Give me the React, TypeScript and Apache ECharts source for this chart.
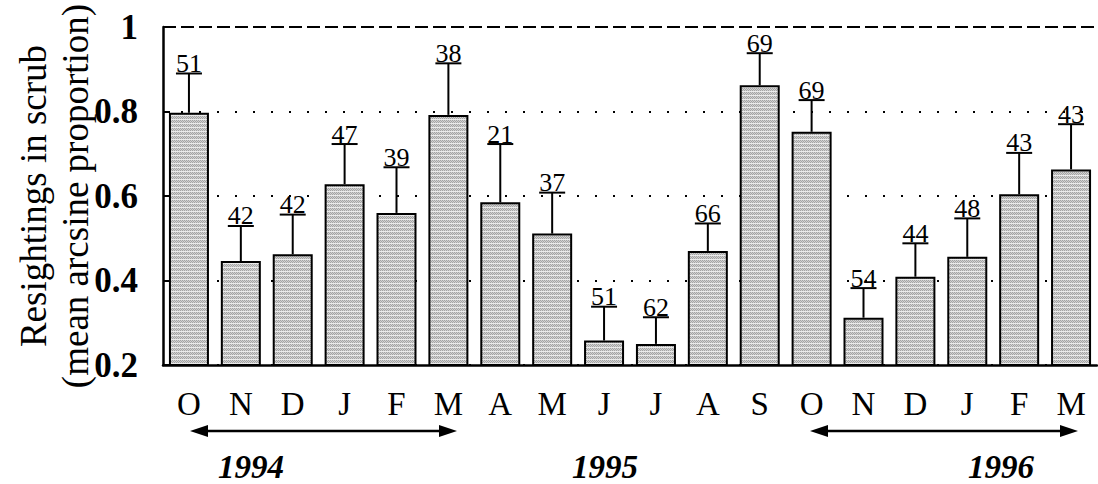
import React, { useEffect, useRef } from "react";
import * as echarts from "echarts";

const months = ["O", "N", "D", "J", "F", "M", "A", "M", "J", "J", "A", "S", "O", "N", "D", "J", "F", "M"];
const means = [0.797, 0.446, 0.462, 0.628, 0.56, 0.792, 0.585, 0.511, 0.258, 0.25, 0.47, 0.862, 0.752, 0.312, 0.409, 0.456, 0.604, 0.663];
const upperErr = [0.89, 0.529, 0.556, 0.723, 0.668, 0.914, 0.723, 0.608, 0.338, 0.313, 0.535, 0.938, 0.827, 0.382, 0.488, 0.547, 0.702, 0.77];
const sampleSizes = [51, 42, 42, 47, 39, 38, 21, 37, 51, 62, 66, 69, 69, 54, 44, 48, 43, 43];
const yTickLabels = ["0.2", "0.4", "0.6", "0.8", "1"];
const years = ["1994", "1995", "1996"];

const FONT = "Liberation Serif, Times New Roman, serif";

function makePattern(): HTMLCanvasElement {
  const c = document.createElement("canvas");
  c.width = 4;
  c.height = 4;
  const ctx = c.getContext("2d")!;
  ctx.fillStyle = "#d2d2d2";
  ctx.fillRect(0, 0, 4, 4);
  ctx.fillStyle = "#a4a4a4";
  ctx.fillRect(0, 0, 1, 1);
  ctx.fillRect(2, 0, 1, 1);
  ctx.fillRect(1, 1, 1, 1);
  ctx.fillRect(3, 1, 1, 1);
  ctx.fillRect(0, 2, 1, 1);
  ctx.fillRect(2, 2, 1, 1);
  ctx.fillStyle = "#ebebeb";
  ctx.fillRect(0, 3, 4, 1);
  return c;
}

export default function App() {
  const ref = useRef<HTMLDivElement>(null);
  useEffect(() => {
    if (!ref.current) return;
    const chart = echarts.init(ref.current, null, { renderer: "svg" });
    const pattern = makePattern();
    const errData = months.map((_, i) => [i, means[i], upperErr[i], sampleSizes[i]]);
    const arrowY = 431;
    const arrow = (x1: number, x2: number) => [
      { type: "line", shape: { x1: x1 + 10, y1: arrowY, x2: x2 - 10, y2: arrowY }, style: { stroke: "#000", lineWidth: 2.5 } },
      { type: "polygon", shape: { points: [[x1, arrowY], [x1 + 18, arrowY - 6], [x1 + 18, arrowY + 6]] }, style: { fill: "#000" } },
      { type: "polygon", shape: { points: [[x2, arrowY], [x2 - 18, arrowY - 6], [x2 - 18, arrowY + 6]] }, style: { fill: "#000" } },
    ];
    const yearPos = [251, 605, 1001];
    chart.setOption({
      animation: false,
      grid: { left: 163, right: 1, top: 27, bottom: 119 },
      xAxis: {
        type: "category",
        data: months,
        boundaryGap: true,
        axisLine: { lineStyle: { color: "#000", width: 2.5 } },
        axisTick: { inside: true, length: 20, lineStyle: { color: "#000", width: 2 } },
        axisLabel: { color: "#000", fontFamily: FONT, fontSize: 33, margin: 22, interval: 0 },
      },
      yAxis: {
        type: "value",
        min: 0.2,
        max: 1,
        interval: 0.2,
        axisLine: { show: true, lineStyle: { color: "#000", width: 2.5 } },
        axisTick: { show: true, inside: true, length: 7, lineStyle: { color: "#000", width: 2 } },
        axisLabel: {
          color: "#000",
          fontFamily: FONT,
          fontSize: 35,
          fontWeight: "bold",
          margin: 25,
          formatter: (v: number) => yTickLabels[Math.round((v - 0.2) / 0.2)] ?? "",
        },
        splitLine: { show: true, lineStyle: { color: "#000", width: 2, type: [2, 16] } },
      },
      series: [
        {
          type: "bar",
          data: means,
          barWidth: 40,
          itemStyle: { color: { image: pattern, repeat: "repeat" } as any, borderColor: "#000", borderWidth: 2 },
          markLine: {
            silent: true,
            symbol: "none",
            label: { show: false },
            lineStyle: { color: "#000", width: 2, type: [13, 5] },
            data: [{ yAxis: 1 }],
          },
          z: 2,
        },
        {
          type: "custom",
          data: errData,
          z: 3,
          renderItem: (params: any, api: any) => {
            const i = api.value(0);
            const p0 = api.coord([i, api.value(1)]);
            const p1 = api.coord([i, api.value(2)]);
            const n = api.value(3);
            return {
              type: "group",
              children: [
                { type: "line", shape: { x1: p0[0], y1: p0[1], x2: p1[0], y2: p1[1] }, style: { stroke: "#000", lineWidth: 2 } },
                { type: "line", shape: { x1: p1[0] - 13, y1: p1[1], x2: p1[0] + 13, y2: p1[1] }, style: { stroke: "#000", lineWidth: 2 } },
                {
                  type: "text",
                  x: p1[0],
                  y: p1[1] + 3,
                  style: {
                    text: String(n),
                    fill: "#000",
                    fontFamily: FONT,
                    fontSize: 26,
                    align: "center",
                    verticalAlign: "bottom",
                  },
                },
              ],
            };
          },
        },
      ],
      graphic: [
        {
          type: "text",
          x: 54,
          y: 196,
          rotation: Math.PI / 2,
          style: {
            text: "Resightings in scrub\n(mean arcsine proportion)",
            fill: "#000",
            fontFamily: FONT,
            fontSize: 37,
            align: "center",
            verticalAlign: "middle",
            lineHeight: 42,
          },
        },
        ...arrow(190, 457),
        ...arrow(810, 1078),
        ...years.map((y, k) => ({
          type: "text",
          x: yearPos[k],
          y: 467,
          style: {
            text: y,
            fill: "#000",
            fontFamily: FONT,
            fontSize: 33,
            fontWeight: "bold",
            fontStyle: "italic",
            align: "center",
            verticalAlign: "middle",
            lineHeight: 28,
          },
        })),
      ],
    } as any);
    return () => chart.dispose();
  }, []);
  return <div ref={ref} style={{ width: 1098, height: 484, position: "absolute", left: 0, top: 0 }} />;
}
